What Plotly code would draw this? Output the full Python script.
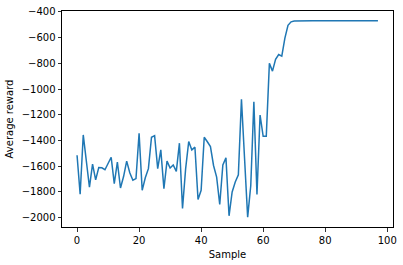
import plotly.graph_objects as go

# Average reward per sample
rewards = [
    -1515, -1818, -1357, -1560, -1763, -1583, -1706, -1610, -1612, -1627,
    -1581, -1530, -1735, -1568, -1769, -1680, -1560, -1650, -1709, -1696,
    -1344, -1787, -1690, -1619, -1375, -1362, -1619, -1473, -1775, -1560,
    -1614, -1590, -1640, -1421, -1928, -1620, -1408, -1473, -1452, -1858,
    -1787, -1375, -1410, -1447, -1594, -1684, -1897, -1590, -1535, -1985,
    -1800, -1722, -1666, -1080, -1540, -1995, -1750, -1100, -1820, -1202,
    -1367, -1367, -801, -861, -770, -732, -745, -604, -505, -478,
    -471, -470, -470, -470, -470, -470, -470, -470, -470, -470,
    -470, -470, -470, -470, -470, -470, -470, -470, -470, -470,
    -470, -470, -470, -470, -470, -470, -470, -470,
]
samples = list(range(len(rewards)))

x_ticks = [0, 20, 40, 60, 80, 100]
y_ticks = [-2000, -1800, -1600, -1400, -1200, -1000, -800, -600, -400]
y_tick_text = ["\u2212" + str(abs(v)) for v in y_ticks]

fig = go.Figure()
fig.add_trace(go.Scatter(
    x=samples, y=rewards, mode="lines",
    line=dict(color="#1f77b4", width=1.5),
    showlegend=False, hoverinfo="skip",
))

font = dict(family="DejaVu Sans", size=10, color="black")
axis_common = dict(
    showline=True, linecolor="black", linewidth=1, mirror=True,
    ticks="outside", ticklen=3.5, tickwidth=0.8, tickcolor="black",
    showgrid=False, zeroline=False, tickfont=font,
)

fig.update_layout(
    width=403, height=265,
    margin=dict(l=62, r=6, t=10, b=38),
    paper_bgcolor="white", plot_bgcolor="white",
    font=font,
    xaxis=dict(
        range=[-4.85, 101.85], tickvals=x_ticks,
        title=dict(text="Sample", font=font, standoff=6),
        **axis_common,
    ),
    yaxis=dict(
        range=[-2072, -394], tickvals=y_ticks, ticktext=y_tick_text,
        title=dict(text="Average reward", font=font, standoff=6),
        **axis_common,
    ),
)

fig.write_html(
    "out.html",
    config={"displayModeBar": False, "staticPlot": True},
    post_script="document.body.style.margin='0';document.body.style.overflow='hidden';",
)
